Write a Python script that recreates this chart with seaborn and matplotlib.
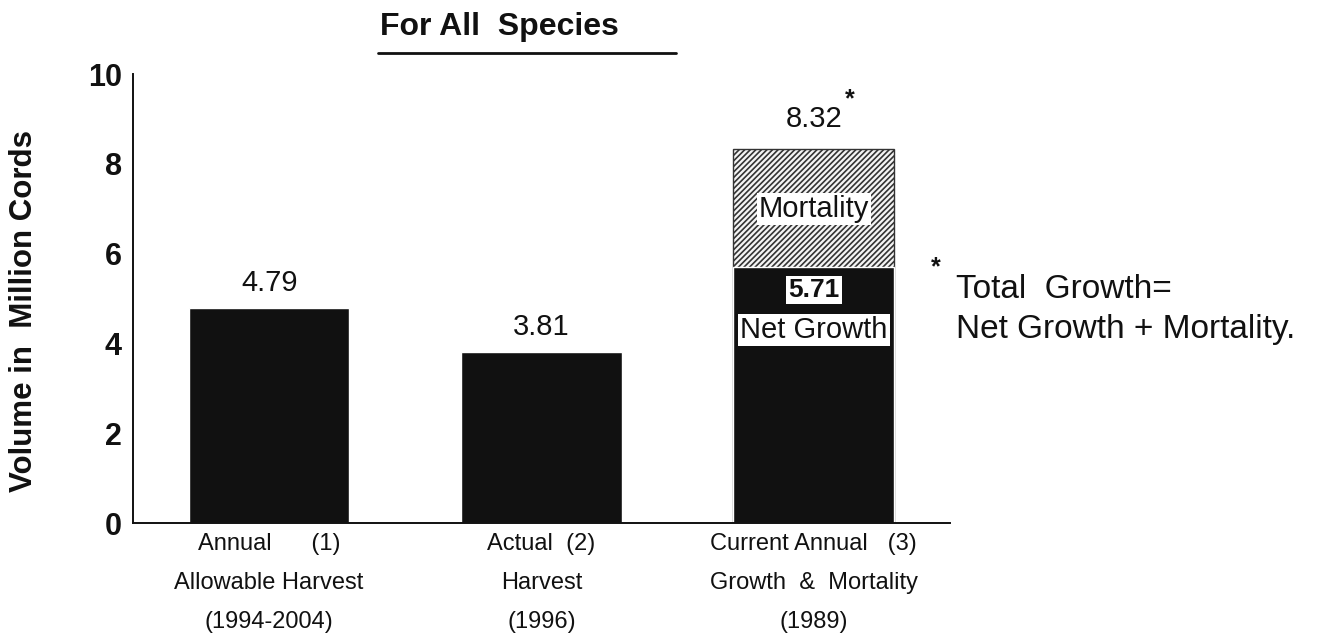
import matplotlib
matplotlib.use("Agg")
import matplotlib.pyplot as plt
from matplotlib.lines import Line2D
import seaborn as sns
import pandas as pd

# Volumes in million cords
categories = ["Allowable", "Actual", "Current"]
total_volume = [4.79, 3.81, 8.32]      # bar heights (growth bar = net growth + mortality)
net_volume = [4.79, 3.81, 5.71]        # solid black portion
value_labels = ["4.79", "3.81", "8.32"]
net_growth_label = "5.71"
tick_labels = [
    "Annual      (1)\nAllowable Harvest\n(1994-2004)",
    "Actual  (2)\nHarvest\n(1996)",
    "Current Annual   (3)\nGrowth  &  Mortality\n(1989)",
]
y_ticks = [0, 2, 4, 6, 8, 10]

sns.set_style("white")
plt.rcParams["font.family"] = ["Liberation Sans", "DejaVu Sans"]
plt.rcParams["hatch.linewidth"] = 1.2
for key in ["text.color", "axes.labelcolor", "xtick.color", "ytick.color"]:
    plt.rcParams[key] = "#111111"

df = pd.DataFrame({"category": categories, "total": total_volume, "net": net_volume})

fig = plt.figure(figsize=(13.22, 6.43), dpi=100)
ax = fig.add_axes([0.1006, 0.1866, 0.6180, 0.6983])

# total bar (mortality shows through as hatch above net growth)
sns.barplot(data=df, x="category", y="total", order=categories, color="#111111",
            width=0.59, saturation=1, ax=ax)
mort = ax.patches[2]
mort.set_facecolor("#f4f4f4")
mort.set_edgecolor("#333333")
mort.set_hatch("//////")
mort.set_linewidth(1.0)

sns.barplot(data=df, x="category", y="net", order=categories, color="#111111",
            width=0.59, saturation=1, ax=ax)

ax.set_xlim(-0.5, 2.5)
ax.set_ylim(0, 10)
ax.set_yticks(y_ticks)
ax.set_yticklabels([str(t) for t in y_ticks], fontsize=22, fontweight="bold")
ax.set_xticks(range(len(categories)))
ax.set_xticklabels(tick_labels, fontsize=17, linespacing=2.0)
ax.tick_params(axis="x", length=0, pad=7)
ax.tick_params(axis="y", direction="inout", length=10, width=1.3, pad=3)
ax.set_xlabel("")
ax.set_ylabel("Volume in  Million Cords", fontsize=22.5, fontweight="bold")
ax.yaxis.label.set_verticalalignment("center")
ax.yaxis.set_label_coords(-0.134, 0.472)

for side in ["top", "right"]:
    ax.spines[side].set_visible(False)
for side in ["left", "bottom"]:
    ax.spines[side].set_linewidth(1.4)
    ax.spines[side].set_color("#111111")

# value labels above bars
for i, (v, lab) in enumerate(zip(total_volume, value_labels)):
    off = 22 if i == 2 else 18
    ax.annotate(lab, (i, v), xytext=(0, off), textcoords="offset points",
                ha="center", va="center", fontsize=21)
ax.annotate("*", (2, total_volume[2]), xytext=(26, 36), textcoords="offset points",
            ha="center", va="center", fontsize=18, fontweight="bold")

# labels inside the growth bar
box = dict(facecolor="white", edgecolor="none", pad=1.5)
ax.text(2, 7.0, "Mortality", ha="center", va="center", fontsize=21, bbox=box)
ax.text(2, net_volume[2] - 0.52, net_growth_label, ha="center", va="center",
        fontsize=19, fontweight="bold", bbox=box)
ax.text(2, 4.3, "Net Growth", ha="center", va="center", fontsize=21, bbox=box)

# title with underline
fig.text(0.2874, 0.958, "For All  Species", ha="left", va="center",
         fontsize=23, fontweight="bold")
fig.add_artist(Line2D([0.286, 0.511], [0.9176, 0.9176], transform=fig.transFigure,
                      color="#111111", linewidth=2))

# footnote
fig.text(0.708, 0.585, "*", ha="center", va="center", fontsize=18, fontweight="bold")
fig.text(0.723, 0.549, "Total  Growth=", ha="left", va="center", fontsize=24)
fig.text(0.723, 0.487, "Net Growth + Mortality.", ha="left", va="center", fontsize=24)

fig.savefig("out.png", dpi=100, facecolor="white")
